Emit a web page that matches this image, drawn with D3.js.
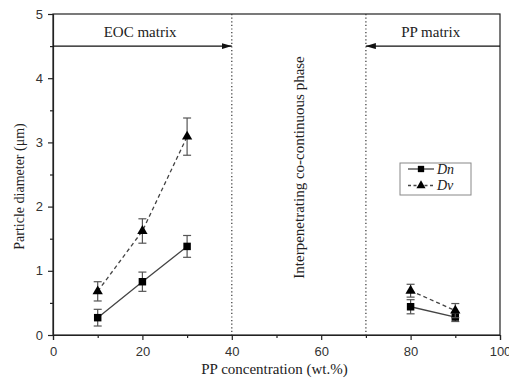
<!DOCTYPE html>
<html><head><meta charset="utf-8">
<script src="https://cdn.jsdelivr.net/npm/d3@7"></script>
<style>body{margin:0;background:#fff}svg{display:block}</style>
</head><body>
<svg id="c" width="509" height="381"></svg>
<script>
const xValues = [10, 20, 30, 80, 90];
const dnValues = [0.27, 0.83, 1.38, 0.44, 0.28];
const dnErrors = [0.13, 0.15, 0.17, 0.11, 0.07];
const dvValues = [0.68, 1.62, 3.09, 0.69, 0.38];
const dvErrors = [0.15, 0.19, 0.29, 0.10, 0.11];
const xTicks = [0, 20, 40, 60, 80, 100];
const yTicks = [0, 1, 2, 3, 4, 5];
const xMinorTicks = [10, 30, 50, 70, 90];
const yMinorTicks = [0.5, 1.5, 2.5, 3.5, 4.5];
const seriesNames = ["Dn", "Dv"];
const boundaries = [40, 70];

const svg = d3.select("#c");
const L = 53, R = 500, T = 14, B = 335;
const x = d3.scaleLinear().domain([0, 100]).range([L, R]);
const y = d3.scaleLinear().domain([0, 5]).range([B, T]);
const sans = "'Liberation Sans', Arial, sans-serif";
const serif = "'Liberation Serif', 'Times New Roman', serif";

svg.append("defs").append("marker").attr("id","ah").attr("viewBox","0 0 10 6")
  .attr("refX",10).attr("refY",3).attr("markerWidth",10).attr("markerHeight",6)
  .attr("markerUnits","userSpaceOnUse").attr("orient","auto")
  .append("path").attr("d","M0,0L10,3L0,6Z").attr("fill","#111");

// frame
svg.append("rect").attr("x",L).attr("y",T).attr("width",R-L).attr("height",B-T)
  .attr("fill","none").attr("stroke","#222").attr("stroke-width",1.2);

// axes
svg.append("g").attr("transform",`translate(0,${B})`)
  .call(d3.axisBottom(x).tickValues(xTicks).tickSize(5).tickPadding(7).tickFormat(d3.format("d")));
svg.append("g").attr("transform",`translate(0,${B})`)
  .call(d3.axisBottom(x).tickValues(xMinorTicks).tickSize(3).tickFormat(""))
  .call(g=>g.select(".domain").remove());
svg.append("g").attr("transform",`translate(${L},0)`)
  .call(d3.axisLeft(y).tickValues(yTicks).tickSize(5).tickPadding(5).tickFormat(d3.format("d")));
svg.append("g").attr("transform",`translate(${L},0)`)
  .call(d3.axisLeft(y).tickValues(yMinorTicks).tickSize(3).tickFormat(""))
  .call(g=>g.select(".domain").remove());
svg.selectAll(".tick text").attr("font-family",sans).attr("font-size",13).attr("fill","#333");
svg.selectAll(".domain,.tick line").attr("stroke","#222").attr("stroke-width",1.2);

// axis titles
svg.append("text").attr("x",(L+R)/2-2).attr("y",374).attr("text-anchor","middle")
  .attr("font-family",serif).attr("font-size",15).attr("fill","#222").text("PP concentration (wt.%)");
svg.append("text").attr("transform",`translate(24,${(T+B)/2+12}) rotate(-90)`).attr("text-anchor","middle")
  .attr("font-family",serif).attr("font-size",14).attr("fill","#222").text("Particle diameter (μm)");

// boundaries
boundaries.forEach(b=>{
  svg.append("line").attr("x1",x(b)).attr("x2",x(b)).attr("y1",T).attr("y2",B)
    .attr("stroke","#333").attr("stroke-width",1.2).attr("stroke-dasharray","1.2,2.4");
});

// region arrows
svg.append("line").attr("x1",x(0)).attr("x2",x(40)).attr("y1",y(4.5)).attr("y2",y(4.5))
  .attr("stroke","#111").attr("stroke-width",1.2).attr("marker-end","url(#ah)");
svg.append("line").attr("x1",x(100)).attr("x2",x(70)).attr("y1",y(4.5)).attr("y2",y(4.5))
  .attr("stroke","#111").attr("stroke-width",1.2).attr("marker-end","url(#ah)");
svg.append("text").attr("x",x(19.5)).attr("y",y(4.5)-9).attr("text-anchor","middle")
  .attr("font-family",serif).attr("font-size",15).attr("fill","#222").text("EOC matrix");
svg.append("text").attr("x",x(84.5)).attr("y",y(4.5)-9).attr("text-anchor","middle")
  .attr("font-family",serif).attr("font-size",15).attr("fill","#222").text("PP matrix");
svg.append("text").attr("transform",`translate(${x(55)+5},${y(2.61)}) rotate(-90)`).attr("text-anchor","middle")
  .attr("font-family",serif).attr("font-size",15).attr("fill","#222").text("Interpenetrating co-continuous phase");

// series
function drawSeries(vals, errs, dashed, shape){
  const pts = xValues.map((xv,i)=>({x:xv,v:vals[i],e:errs[i]}));
  const segs = [pts.slice(0,3), pts.slice(3)];
  const line = d3.line().x(d=>x(d.x)).y(d=>y(d.v));
  segs.forEach(s=>svg.append("path").attr("d",line(s)).attr("fill","none")
    .attr("stroke","#444").attr("stroke-width",1.3).attr("stroke-dasharray",dashed?"4,3":null));
  pts.forEach(p=>{
    const cx=x(p.x), t=y(p.v+p.e), b=y(p.v-p.e);
    const g=svg.append("g").attr("stroke","#555").attr("stroke-width",1.2);
    g.append("line").attr("x1",cx).attr("x2",cx).attr("y1",t).attr("y2",b);
    g.append("line").attr("x1",cx-4).attr("x2",cx+4).attr("y1",t).attr("y2",t);
    g.append("line").attr("x1",cx-4).attr("x2",cx+4).attr("y1",b).attr("y2",b);
    svg.append("path").attr("transform",`translate(${cx},${y(p.v)})`)
      .attr("d",d3.symbol().type(shape).size(shape===d3.symbolSquare?56:46)()).attr("fill","#000");
  });
}
drawSeries(dnValues, dnErrors, false, d3.symbolSquare);
drawSeries(dvValues, dvErrors, true, d3.symbolTriangle);

// legend
const lg = svg.append("g");
lg.append("rect").attr("x",400).attr("y",163).attr("width",71).attr("height",32)
  .attr("fill","#fff").attr("stroke","#888").attr("stroke-width",1);
[[false,d3.symbolSquare],[true,d3.symbolTriangle]].forEach((s,i)=>{
  const yy = 169+i*16.5;
  lg.append("line").attr("x1",408).attr("x2",434).attr("y1",yy).attr("y2",yy)
    .attr("stroke","#444").attr("stroke-width",1.3).attr("stroke-dasharray",s[0]?"3,2.5":null);
  lg.append("path").attr("transform",`translate(421,${yy})`)
    .attr("d",d3.symbol().type(s[1]).size(s[1]===d3.symbolSquare?40:36)()).attr("fill","#000");
  lg.append("text").attr("x",437).attr("y",yy+4.5).attr("font-family",serif).attr("font-style","italic")
    .attr("font-size",14).attr("fill","#222").text(seriesNames[i]);
});
</script>
</body></html>
